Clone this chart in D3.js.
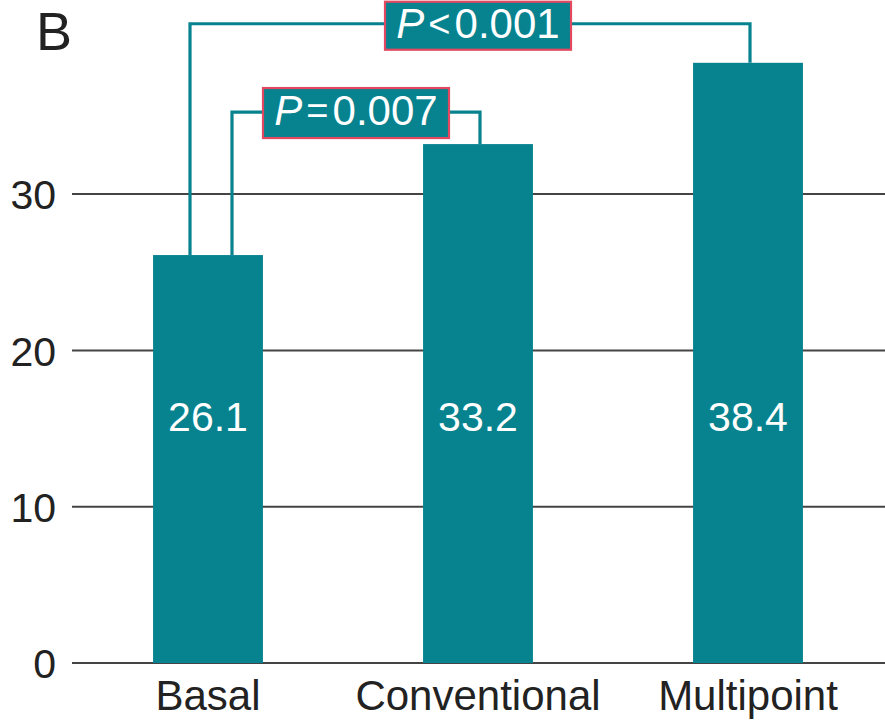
<!DOCTYPE html>
<html>
<head>
<meta charset="utf-8">
<script src="https://cdn.jsdelivr.net/npm/d3@7"></script>
<style>
  html, body { margin: 0; padding: 0; background: #fff; }
  svg { display: block; font-family: "Liberation Sans", Arial, Helvetica, sans-serif; }
</style>
</head>
<body>
<svg id="chart" width="885" height="721"></svg>
<script>
// Groups and their mean values
const categories = ["Basal", "Conventional", "Multipoint"];
const values = [26.1, 33.2, 38.4];
const valueLabels = ["26.1", "33.2", "38.4"];
const yTicks = [0, 10, 20, 30];

// Pairwise comparisons drawn as brackets above the bars
const compFrom = ["Basal", "Basal"];
const compTo = ["Conventional", "Multipoint"];
const compLevel = [35.25, 40.9];
const compSymbol = ["=", "<"];
const compP = ["0.007", "0.001"];

const teal = "#07838f";
const frameRed = "#e2485f";
const ink = "#222";

const svg = d3.select("#chart");

const x = d3.scaleBand()
  .domain(categories)
  .range([73, 883])
  .paddingInner(0.593)
  .paddingOuter(0.2965);

const y = d3.scaleLinear().domain([0, 40]).range([663, 37.8]);

// Horizontal grid lines at each tick
svg.append("g")
  .selectAll("line")
  .data(yTicks)
  .join("line")
  .attr("x1", 72).attr("x2", 885)
  .attr("y1", d => y(d)).attr("y2", d => y(d))
  .attr("stroke", "#444").attr("stroke-width", 2);

// Y axis tick labels
const yAxis = d3.axisLeft(y).tickValues(yTicks).tickSize(0).tickPadding(0);
const yg = svg.append("g").attr("transform", "translate(56,0)").call(yAxis);
yg.select(".domain").remove();
yg.selectAll("text")
  .attr("font-size", 41)
  .attr("fill", ink)
  .attr("font-family", "Liberation Sans, Arial, sans-serif")
  .attr("dy", "0.36em");

// Category labels under the baseline
const xAxis = d3.axisBottom(x).tickSize(0).tickPadding(0);
const xg = svg.append("g").attr("transform", "translate(0,710)").call(xAxis);
xg.select(".domain").remove();
xg.selectAll("text")
  .attr("y", 0)
  .attr("dy", 0)
  .attr("font-size", 42)
  .attr("fill", ink)
  .attr("font-family", "Liberation Sans, Arial, sans-serif");

// Bars
svg.append("g")
  .selectAll("rect")
  .data(categories)
  .join("rect")
  .attr("x", d => x(d))
  .attr("width", x.bandwidth())
  .attr("y", (d, i) => y(values[i]))
  .attr("height", (d, i) => y(0) - y(values[i]))
  .attr("fill", teal);

// Value labels inside bars
svg.append("g")
  .selectAll("text")
  .data(categories)
  .join("text")
  .attr("x", d => x(d) + x.bandwidth() / 2)
  .attr("y", y(15.55))
  .attr("text-anchor", "middle")
  .attr("dominant-baseline", "middle")
  .attr("font-size", 41)
  .attr("fill", "#fff")
  .text((d, i) => valueLabels[i]);

// Brackets
const legOffsetFrom = [24, -18];
const boxWidth = 186;
const boxHeight = [50, 48];
const boxShift = [1, 2];
const boxCenter = [null, x("Conventional") + x.bandwidth() / 2];

const bg = svg.append("g");
compFrom.forEach((from, i) => {
  const to = compTo[i];
  const xa = x(from) + x.bandwidth() / 2 + legOffsetFrom[i];
  const xb = x(to) + x.bandwidth() / 2 + 2;
  const ya = y(values[categories.indexOf(from)]);
  const yb = y(values[categories.indexOf(to)]);
  const yl = y(compLevel[i]);
  bg.append("path")
    .attr("d", `M${xa},${ya}V${yl}H${xb}V${yb}`)
    .attr("fill", "none")
    .attr("stroke", teal)
    .attr("stroke-width", 3.2);

  const cx = boxCenter[i] != null ? boxCenter[i] : (xa + xb) / 2;
  const cy = yl + boxShift[i];
  bg.append("rect")
    .attr("x", cx - boxWidth / 2)
    .attr("y", cy - boxHeight[i] / 2)
    .attr("width", boxWidth)
    .attr("height", boxHeight[i])
    .attr("fill", teal)
    .attr("stroke", frameRed)
    .attr("stroke-width", 2.2);

  const t = bg.append("text")
    .attr("x", cx)
    .attr("y", cy + 1)
    .attr("text-anchor", "middle")
    .attr("dominant-baseline", "middle")
    .attr("font-size", 42)
    .attr("fill", "#fff");
  t.append("tspan").attr("font-style", "italic").text("P");
  t.append("tspan").attr("dx", 4).attr("font-size", 38).text(compSymbol[i]);
  t.append("tspan").attr("dx", 4).text(compP[i]);
});

// Panel letter
svg.append("text")
  .attr("x", 36).attr("y", 50)
  .attr("font-size", 54)
  .attr("fill", ink)
  .text("B");
</script>
</body>
</html>
